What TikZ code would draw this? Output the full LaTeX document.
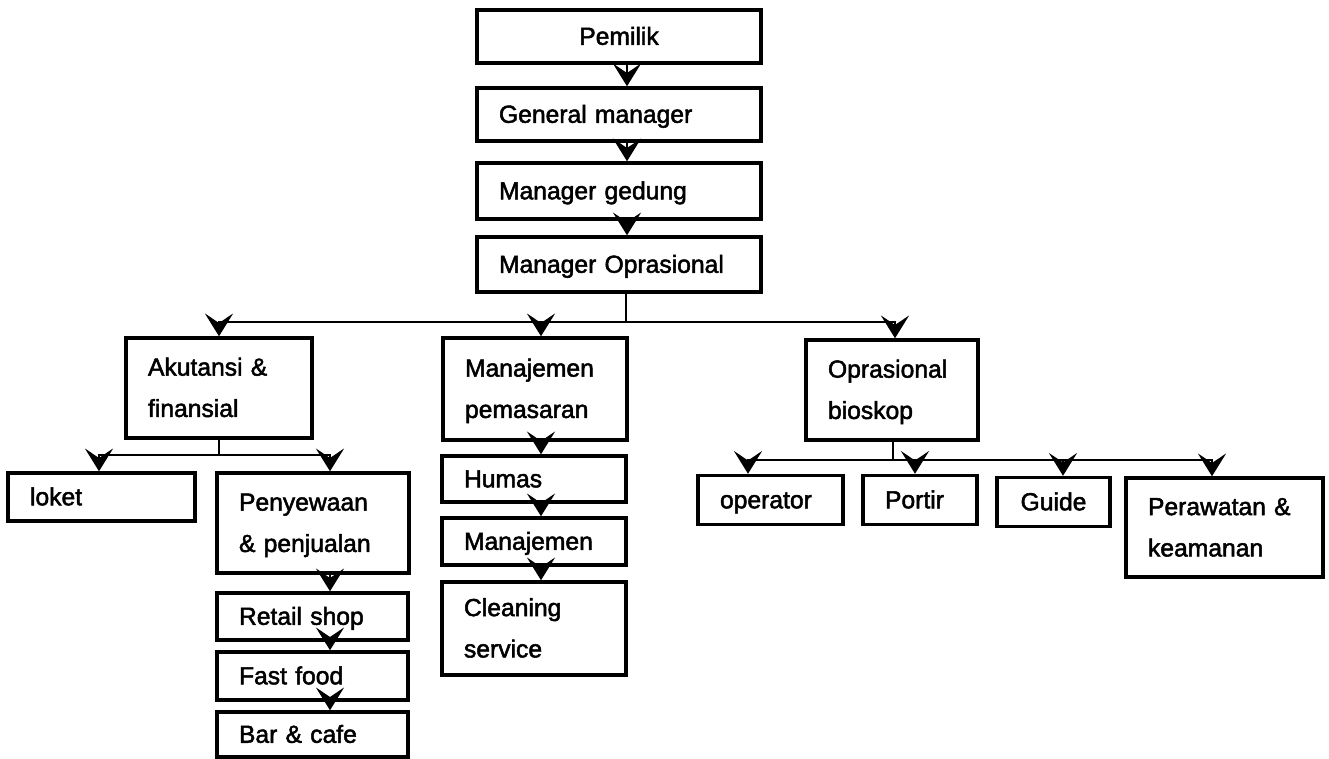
\documentclass[tikz,border=0pt]{standalone}
\usepackage{fontspec}
\setmainfont{Liberation Sans}
\newfontfamily\lblfont{Liberation Sans}[FakeBold=2]
\usetikzlibrary{arrows.meta}
\begin{document}
\begin{tikzpicture}[x=0.75pt,y=-0.75pt,
  box/.style={draw, line width=2.6pt, inner xsep=16.5pt, inner ysep=0pt,
    align=left, font=\lblfont\fontsize{18.5}{31}\selectfont,
    execute at begin node=\strut, execute at end node=\strut},
  sz/.style 2 args={minimum width=#1*0.75pt, minimum height=#2*0.75pt,
    text width=#1*0.75pt-33pt},
  ln/.style={line width=1.8pt},
  arr/.style={ln, -{Stealth[length=17pt,width=21pt,inset=7pt]}}]
\fill[white] (0,0) rectangle (1329,758);
\useasboundingbox (0,0) rectangle (1329,758);

% top chain
\node[box, sz={284}{53}, align=center] (pem) at (619,36.5) {Pemilik};
\node[box, sz={284}{53}] (gm)  at (619,114.5) {General manager};
\node[box, sz={284}{56}] (mg)  at (619,191)   {Manager gedung};
\node[box, sz={284}{55}] (mo)  at (619,264.5) {Manager Oprasional};

% second level
\node[box, sz={186}{100}] (ak) at (219,388) {Akutansi \&\\finansial};
\node[box, sz={184}{102}] (mp) at (535,389) {Manajemen\\pemasaran};
\node[box, sz={172}{100}] (ob) at (892,390) {Oprasional\\bioskop};

% under Akutansi & finansial
\node[box, sz={187}{48}]  (loket)  at (101.5,497) {loket};
\node[box, sz={192}{100}] (peny)   at (313,523)   {Penyewaan\\\& penjualan};
\node[box, sz={191}{47}]  (retail) at (312.5,616.5) {Retail shop};
\node[box, sz={191}{48}]  (fast)   at (312.5,676)   {Fast food};
\node[box, sz={191}{45}]  (bar)    at (312.5,734.5) {Bar \& cafe};

% under Manajemen pemasaran
\node[box, sz={184}{46}] (humas) at (534,479)   {Humas};
\node[box, sz={184}{47}] (man)   at (534,541.5) {Manajemen};
\node[box, sz={184}{93}] (clean) at (534,628.5) {Cleaning\\service};

% under Oprasional bioskop
\node[box, sz={145}{49}] (op)     at (770.5,500) {operator};
\node[box, sz={114}{49}] (portir) at (920,500)   {Portir};
\node[box, sz={113}{49}, align=center] (guide) at (1053.5,502) {Guide};
\node[box, sz={197}{99}] (pk)     at (1224.5,527.5) {Perawatan \&\\keamanan};

% connector columns and junctions
\coordinate (c0)  at (627,0);
\coordinate (j1)  at (626,322);
\coordinate (cm)  at (541,0);
\coordinate (cob) at (895,0);
\coordinate (j2)  at (219,455);
\coordinate (cl)  at (99,0);
\coordinate (cp)  at (330,0);
\coordinate (j3)  at (893,460);
\coordinate (co)  at (748,0);
\coordinate (cpt) at (915,0);
\coordinate (cg)  at (1063,0);
\coordinate (cpk) at (1212,0);

\draw[arr] (pem.south -| c0) -- (gm.north -| c0);
\draw[arr] (gm.south -| c0) -- (mg.north -| c0);
\draw[arr] (mg.south -| c0) -- (mo.north -| c0);

\draw[ln] (mo.south -| j1) -- (j1);
\draw[arr] (j1) -| (ak.north);
\draw[arr] (j1) -| (mp.north -| cm);
\draw[arr] (j1) -| (ob.north -| cob);

\draw[ln] (ak.south) -- (j2);
\draw[arr] (j2) -| (loket.north -| cl);
\draw[arr] (j2) -| (peny.north -| cp);
\draw[arr] (peny.south -| cp) -- (retail.north -| cp);
\draw[arr] (retail.south -| cp) -- (fast.north -| cp);
\draw[arr] (fast.south -| cp) -- (bar.north -| cp);

\draw[arr] (mp.south -| cm) -- (humas.north -| cm);
\draw[arr] (humas.south -| cm) -- (man.north -| cm);
\draw[arr] (man.south -| cm) -- (clean.north -| cm);

\draw[ln] (ob.south -| j3) -- (j3);
\draw[arr] (j3) -| (op.north -| co);
\draw[arr] (j3) -| (portir.north -| cpt);
\draw[arr] (j3) -| (guide.north -| cg);
\draw[arr] (j3) -| (pk.north -| cpk);
\end{tikzpicture}
\end{document}
